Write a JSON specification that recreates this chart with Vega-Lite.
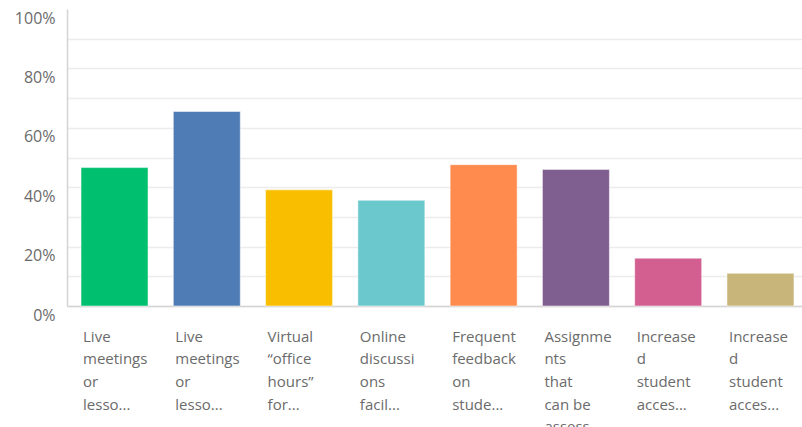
{
  "$schema": "https://vega.github.io/schema/vega-lite/v6.json",
  "autosize": "none",
  "width": 741,
  "height": 297,
  "padding": {"left": 67, "top": 9, "right": 0, "bottom": 121},
  "background": "white",
  "config": {"view": {"stroke": null}, "font": "Open Sans"},
  "data": {
    "values": [
      {"id": 1, "label": "Live|meetings|or|lesso...", "pct": 0.466},
      {"id": 2, "label": "Live|meetings|or|lesso...", "pct": 0.655},
      {"id": 3, "label": "Virtual|“office|hours”|for...", "pct": 0.391},
      {"id": 4, "label": "Online|discussi|ons|facil...", "pct": 0.356},
      {"id": 5, "label": "Frequent|feedback|on|stude...", "pct": 0.476},
      {"id": 6, "label": "Assignme|nts|that|can be|assess...", "pct": 0.460},
      {"id": 7, "label": "Increase|d|student|acces...", "pct": 0.161},
      {"id": 8, "label": "Increase|d|student|acces...", "pct": 0.110}
    ]
  },
  "encoding": {
    "x": {
      "field": "id",
      "type": "ordinal",
      "scale": {"paddingInner": 0.274, "paddingOuter": 0.152},
      "axis": {"title": null, "labels": false, "ticks": false, "domainColor": "#d4d4d4", "domainWidth": 1.5, "grid": false}
    },
    "y": {
      "field": "pct",
      "type": "quantitative",
      "scale": {"domain": [0, 1], "nice": false},
      "axis": {
        "title": null,
        "values": [0, 0.1, 0.2, 0.3, 0.4, 0.5, 0.6, 0.7, 0.8, 0.9, 1],
        "labelExpr": "round(datum.value*10) % 2 == 0 ? format(datum.value, '.0%') : ''",
        "ticks": false,
        "labelPadding": 12,
        "labelBaseline": "middle",
        "labelOffset": 9,
        "labelOverlap": false,
        "labelFontSize": 16,
        "labelColor": "#6b6b6b",
        "labelFont": "Open Sans",
        "domainColor": "#d4d4d4",
        "domainWidth": 1.5,
        "gridColor": {"condition": {"test": "datum.value >= 0.99", "value": "transparent"}, "value": "#ececec"},
        "gridWidth": 1.5
      }
    }
  },
  "layer": [
    {
      "mark": {"type": "bar", "stroke": "white", "strokeOpacity": 0.5, "strokeWidth": 1},
      "encoding": {
        "color": {
          "field": "id",
          "type": "ordinal",
          "scale": {
            "domain": [1, 2, 3, 4, 5, 6, 7, 8],
            "range": ["#00BF6F", "#507CB6", "#F9BE00", "#6BC8CD", "#FF8B4F", "#7F5F90", "#D25F90", "#C8B579"]
          },
          "legend": null
        }
      }
    },
    {
      "mark": {
        "type": "text",
        "align": "left",
        "baseline": "alphabetic",
        "dx": 2,
        "dy": 35.5,
        "lineBreak": "|",
        "lineHeight": 22.7,
        "fontSize": 15,
        "font": "Open Sans",
        "color": "#6b6b6b"
      },
      "encoding": {
        "x": {"field": "id", "type": "ordinal", "bandPosition": 0},
        "y": {"datum": 0, "type": "quantitative"},
        "text": {"field": "label"}
      }
    }
  ]
}
